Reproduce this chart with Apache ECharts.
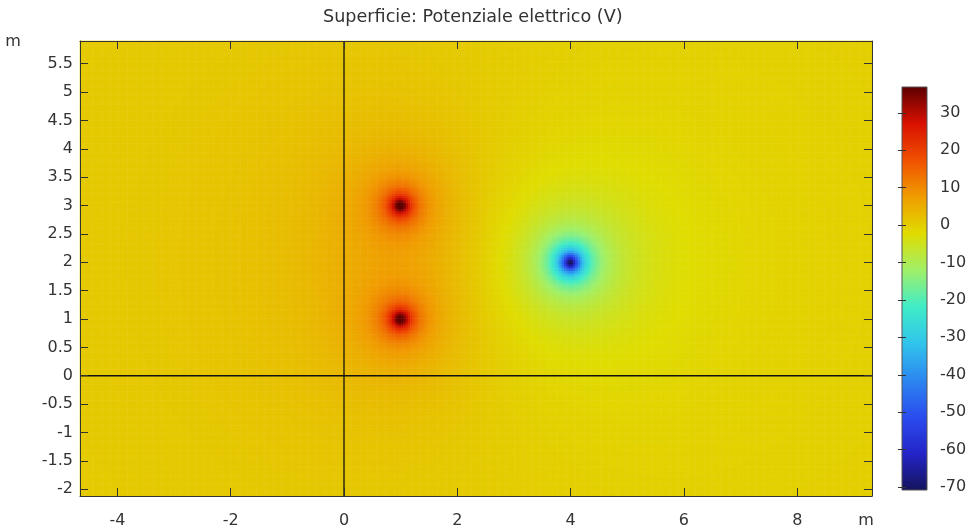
<!DOCTYPE html>
<html>
<head>
<meta charset="utf-8">
<script src="https://cdn.jsdelivr.net/npm/echarts@6/dist/echarts.min.js"></script>
<style>
  html, body { margin: 0; padding: 0; background: #fff; }
  #chart { width: 973px; height: 532px; }
</style>
</head>
<body>
<div id="chart"></div>
<script>
// point charges: position (m) and strength (V*m)
var chargeX = [1, 1, 4];
var chargeY = [1, 3, 2];
var chargeQ = [5, 5, -9];
var coreSize = 0.12; // mesh smoothing at the charges

// axes
var xRange = [-4.66, 9.32];
var yRange = [-2.12, 5.9];
var xTicks = [-4, -2, 0, 2, 4, 6, 8];
var yTicks = [-2, -1.5, -1, -0.5, 0, 0.5, 1, 1.5, 2, 2.5, 3, 3.5, 4, 4.5, 5, 5.5];

// colour bar
var barRange = [-70.8, 36.9];
var barTicks = [-70, -60, -50, -40, -30, -20, -10, 0, 10, 20, 30];
var rainbow = ['#14145c', '#2424c8', '#2a4cee', '#2c86f0', '#30c4ec', '#40ecc8',
  '#a0f068', '#e0dc00', '#f09c00', '#f05000', '#d81000', '#5c0000'];

var font = 'DejaVu Sans';
var nx = 350, ny = 200;
var dx = (xRange[1] - xRange[0]) / nx;
var dy = (yRange[1] - yRange[0]) / ny;

function potential(x, y) {
  var v = 0;
  for (var k = 0; k < chargeQ.length; k++) {
    var rx = x - chargeX[k], ry = y - chargeY[k];
    v += chargeQ[k] / Math.sqrt(rx * rx + ry * ry + coreSize * coreSize);
  }
  return Math.max(barRange[0], Math.min(barRange[1], v));
}

var cells = [];
var xCats = [], yCats = [];
for (var i = 0; i < nx; i++) xCats.push(i);
for (var j = 0; j < ny; j++) yCats.push(j);
for (var i = 0; i < nx; i++) {
  for (var j = 0; j < ny; j++) {
    cells.push([i, j, potential(xRange[0] + (i + 0.5) * dx, yRange[0] + (j + 0.5) * dy)]);
  }
}

var gridPos = { left: 80, top: 41, right: 101, bottom: 36 };
var labelStyle = { color: '#333', fontFamily: font, fontSize: 16 };
var tickStyle = { color: '#333', width: 1 };

var chart = echarts.init(document.getElementById('chart'));
chart.setOption({
  animation: false,
  title: {
    text: 'Superficie: Potenziale elettrico (V)',
    left: 318, top: 3,
    textStyle: { color: '#333', fontFamily: font, fontSize: 17.6, fontWeight: 'normal' }
  },
  graphic: [
    { type: 'text', x: 13, y: 42, style: { text: 'm', font: '16px "DejaVu Sans"', fill: '#333', align: 'center', verticalAlign: 'middle' } },
    { type: 'text', x: 866, y: 521, style: { text: 'm', font: '16px "DejaVu Sans"', fill: '#333', align: 'center', verticalAlign: 'middle' } }
  ],
  grid: [
    Object.assign({}, gridPos),
    Object.assign({}, gridPos),
    { left: 902, top: 87, right: 46, bottom: 42 }
  ],
  visualMap: {
    type: 'continuous', show: false, seriesIndex: 0, dimension: 2,
    min: barRange[0], max: barRange[1],
    inRange: { color: rainbow }
  },
  xAxis: [
    { type: 'category', gridIndex: 0, data: xCats, show: false },
    {
      type: 'value', gridIndex: 1, min: xRange[0], max: xRange[1], z: 5,
      axisLine: { onZero: false, lineStyle: tickStyle },
      axisTick: { inside: true, length: 8, customValues: xTicks, lineStyle: tickStyle },
      axisLabel: Object.assign({ margin: 17, customValues: xTicks }, labelStyle),
      splitLine: { show: false }
    },
    {
      type: 'value', gridIndex: 1, position: 'top', min: xRange[0], max: xRange[1], z: 5,
      axisLine: { onZero: false, lineStyle: tickStyle },
      axisTick: { inside: true, length: 8, customValues: xTicks, lineStyle: tickStyle },
      axisLabel: { show: false }, splitLine: { show: false }
    },
    { type: 'value', gridIndex: 2, min: 0, max: 1, show: false }
  ],
  yAxis: [
    { type: 'category', gridIndex: 0, data: yCats, show: false },
    {
      type: 'value', gridIndex: 1, min: yRange[0], max: yRange[1], z: 5,
      axisLine: { show: true, onZero: false, lineStyle: tickStyle },
      axisTick: { show: true, inside: true, length: 8, customValues: yTicks, lineStyle: tickStyle },
      axisLabel: Object.assign({ margin: 7, customValues: yTicks }, labelStyle),
      splitLine: { show: false }
    },
    {
      type: 'value', gridIndex: 1, position: 'right', min: yRange[0], max: yRange[1], z: 5,
      axisLine: { show: true, onZero: false, lineStyle: tickStyle },
      axisTick: { show: true, inside: true, length: 8, customValues: yTicks, lineStyle: tickStyle },
      axisLabel: { show: false }, splitLine: { show: false }
    },
    {
      type: 'value', gridIndex: 2, position: 'right', min: barRange[0], max: barRange[1], z: 5,
      axisLine: { show: false },
      axisTick: { show: true, inside: true, length: 4, customValues: barTicks, lineStyle: tickStyle },
      axisLabel: Object.assign({ margin: 13, customValues: barTicks }, labelStyle),
      splitLine: { show: false }
    },
    {
      type: 'value', gridIndex: 2, position: 'left', min: barRange[0], max: barRange[1], z: 5,
      axisLine: { show: false },
      axisTick: { show: true, inside: true, length: 4, customValues: barTicks, lineStyle: tickStyle },
      axisLabel: { show: false }, splitLine: { show: false }
    }
  ],
  series: [
    {
      type: 'heatmap', xAxisIndex: 0, yAxisIndex: 0, data: cells,
      progressive: 0, silent: true
    },
    {
      // zero lines across the plot
      type: 'custom', xAxisIndex: 1, yAxisIndex: 1, data: [[0, 0]], silent: true, z: 4,
      renderItem: function (params, api) {
        var a = api.coord([xRange[0], 0]), b = api.coord([xRange[1], 0]);
        var c = api.coord([0, yRange[0]]), d = api.coord([0, yRange[1]]);
        var st = { stroke: '#111', lineWidth: 1.3 };
        return {
          type: 'group', children: [
            { type: 'line', shape: { x1: a[0], y1: a[1], x2: b[0], y2: b[1] }, style: st },
            { type: 'line', shape: { x1: c[0], y1: c[1], x2: d[0], y2: d[1] }, style: st }
          ]
        };
      }
    },
    {
      // colour bar
      type: 'custom', xAxisIndex: 3, yAxisIndex: 3, data: [[0, 0]], silent: true,
      renderItem: function (params, api) {
        var tl = api.coord([0, barRange[1]]), br = api.coord([1, barRange[0]]);
        var stops = [];
        for (var k = rainbow.length - 1; k >= 0; k--) {
          stops.push({ offset: 1 - k / (rainbow.length - 1), color: rainbow[k] });
        }
        return {
          type: 'rect',
          shape: { x: tl[0], y: tl[1], width: br[0] - tl[0], height: br[1] - tl[1] },
          style: { fill: new echarts.graphic.LinearGradient(0, 0, 0, 1, stops), stroke: '#555', lineWidth: 1 }
        };
      }
    }
  ]
});
</script>
</body>
</html>
